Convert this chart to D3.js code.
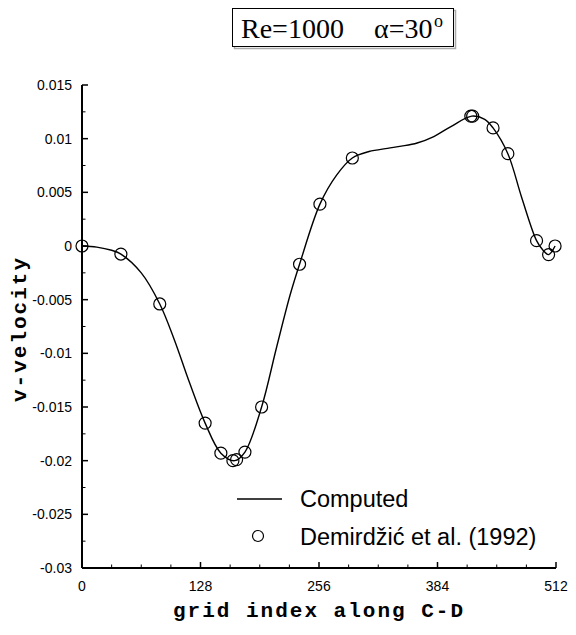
<!DOCTYPE html>
<html>
<head>
<meta charset="utf-8">
<script src="https://cdn.jsdelivr.net/npm/d3@7"></script>
<style>
  html, body { margin: 0; padding: 0; background: #fff; }
  svg { display: block; }
</style>
</head>
<body>
<svg id="chart" width="576" height="635"></svg>
<script>
// ---- data ----
const computedX = [0, 16, 32, 42, 64, 84, 100, 116, 133, 150, 165, 176, 194, 210, 225, 235, 257, 275, 292, 310, 330, 345, 362, 380, 398, 421, 435, 444, 460, 475, 491, 498, 504, 511];
const computedV = [0, -0.0001, -0.0004, -0.00075, -0.0025, -0.0054, -0.0088, -0.0127, -0.0165, -0.0193, -0.0200, -0.0192, -0.0150, -0.0095, -0.0045, -0.0017, 0.0039, 0.0066, 0.0082, 0.0088, 0.0091, 0.0093, 0.0096, 0.0102, 0.0111, 0.0121, 0.0118, 0.0110, 0.0086, 0.0045, 0.0005, -0.0004, -0.0008, 0.0];
const refX = [0, 42, 84, 133, 150, 163, 167, 176, 194, 235, 257, 292, 420, 422, 444, 460, 491, 504, 511];
const refV = [0, -0.00075, -0.0054, -0.0165, -0.0193, -0.0200, -0.0199, -0.0192, -0.0150, -0.0017, 0.0039, 0.0082, 0.0121, 0.0121, 0.0110, 0.0086, 0.0005, -0.0008, 0.0];
const xTickValues = [0, 128, 256, 384, 512];
const xTickLabels = ["0", "128", "256", "384", "512"];
const yTickValues = [0.015, 0.01, 0.005, 0, -0.005, -0.01, -0.015, -0.02, -0.025, -0.03];
const yTickLabels = ["0.015", "0.01", "0.005", "0", "-0.005", "-0.01", "-0.015", "-0.02", "-0.025", "-0.03"];
const legendLabels = ["Computed", "Demirdžić et al. (1992)"];

// ---- layout ----
const svg = d3.select("#chart");
const x = d3.scaleLinear().domain([0, 512]).range([82, 556]);
const y = d3.scaleLinear().domain([-0.03, 0.015]).range([568, 85]);

// title box
const tb = svg.append("g");
tb.append("rect").attr("x", 234.5).attr("y", 10.5).attr("width", 221).attr("height", 38)
  .attr("fill", "none").attr("stroke", "#aaa").attr("stroke-width", 1.5);
tb.append("rect").attr("x", 232.5).attr("y", 8.5).attr("width", 221).attr("height", 38)
  .attr("fill", "#fff").attr("stroke", "#000").attr("stroke-width", 1);
const tt = tb.append("text").attr("y", 38).attr("font-family", "Liberation Serif, Times New Roman, serif")
  .attr("font-size", 28).attr("fill", "#000");
tt.append("tspan").attr("x", 241).text("Re=1000");
tt.append("tspan").attr("x", 374).text("α=30");
tb.append("text").attr("x", 434).attr("y", 27).attr("font-family", "Liberation Serif, Times New Roman, serif")
  .attr("font-size", 18).text("o");

// axes
const axisG = svg.append("g");
const xMinor = d3.range(0, 513, 32).filter(v => v % 128 !== 0);
const yMinor = d3.range(-0.0275, 0.015, 0.005);
axisG.selectAll("line.xminor").data(xMinor).join("line")
  .attr("x1", d => x(d)).attr("x2", d => x(d)).attr("y1", y(-0.03)).attr("y2", y(-0.03) - 3.5)
  .attr("stroke", "#000").attr("stroke-width", 1);
axisG.selectAll("line.xmajor").data(xTickValues).join("line")
  .attr("x1", d => x(d)).attr("x2", d => x(d)).attr("y1", y(-0.03)).attr("y2", y(-0.03) - 6)
  .attr("stroke", "#000").attr("stroke-width", 1.5);
axisG.selectAll("line.yminor").data(yMinor).join("line")
  .attr("y1", d => y(d)).attr("y2", d => y(d)).attr("x1", x(0)).attr("x2", x(0) + 3.5)
  .attr("stroke", "#000").attr("stroke-width", 1);
axisG.selectAll("line.ymajor").data(yTickValues).join("line")
  .attr("y1", d => y(d)).attr("y2", d => y(d)).attr("x1", x(0)).attr("x2", x(0) + 6)
  .attr("stroke", "#000").attr("stroke-width", 1.5);
axisG.append("line").attr("x1", x(0)).attr("x2", x(512)).attr("y1", y(-0.03)).attr("y2", y(-0.03))
  .attr("stroke", "#000").attr("stroke-width", 2);
axisG.append("line").attr("x1", x(0)).attr("x2", x(0)).attr("y1", y(-0.03)).attr("y2", y(0.015))
  .attr("stroke", "#000").attr("stroke-width", 2);

// tick labels
axisG.selectAll("text.xl").data(xTickValues).join("text")
  .attr("x", d => x(d)).attr("y", 591).attr("text-anchor", "middle")
  .attr("font-family", "Liberation Sans, Arial, sans-serif").attr("font-size", 14)
  .text((d, i) => xTickLabels[i]);
axisG.selectAll("text.yl").data(yTickValues).join("text")
  .attr("x", 72).attr("y", d => y(d) + 5).attr("text-anchor", "end")
  .attr("font-family", "Liberation Sans, Arial, sans-serif").attr("font-size", 14)
  .text((d, i) => yTickLabels[i]);

// axis titles
svg.append("text").attr("x", 319).attr("y", 617).attr("text-anchor", "middle")
  .attr("font-family", "Liberation Mono, Courier New, monospace").attr("font-weight", "bold")
  .attr("font-size", 21).attr("letter-spacing", 2).text("grid index along C-D");
svg.append("text").attr("transform", "translate(26,329) rotate(-90)").attr("text-anchor", "middle")
  .attr("font-family", "Liberation Mono, Courier New, monospace").attr("font-weight", "bold")
  .attr("font-size", 21).attr("letter-spacing", 2).text("v-velocity");

// computed line
const pts = computedX.map((d, i) => [d, computedV[i]]);
const line = d3.line().x(d => x(d[0])).y(d => y(d[1])).curve(d3.curveCatmullRom.alpha(0.5));
svg.append("path").datum(pts).attr("d", line).attr("fill", "none")
  .attr("stroke", "#000").attr("stroke-width", 1.4);

// reference circles
svg.selectAll("circle.ref").data(refX).join("circle")
  .attr("cx", d => x(d)).attr("cy", (d, i) => y(refV[i])).attr("r", 6)
  .attr("fill", "none").attr("stroke", "#000").attr("stroke-width", 1.2);

// legend
const lg = svg.append("g");
lg.append("line").attr("x1", 237).attr("x2", 282).attr("y1", 499).attr("y2", 499)
  .attr("stroke", "#000").attr("stroke-width", 1.4);
lg.append("circle").attr("cx", 258).attr("cy", 536).attr("r", 5.5)
  .attr("fill", "none").attr("stroke", "#000").attr("stroke-width", 1.2);
lg.selectAll("text").data(legendLabels).join("text")
  .attr("x", 300).attr("y", (d, i) => 507 + i * 38)
  .attr("font-family", "Liberation Sans, Arial, sans-serif").attr("font-size", 23.5)
  .text(d => d);
</script>
</body>
</html>
